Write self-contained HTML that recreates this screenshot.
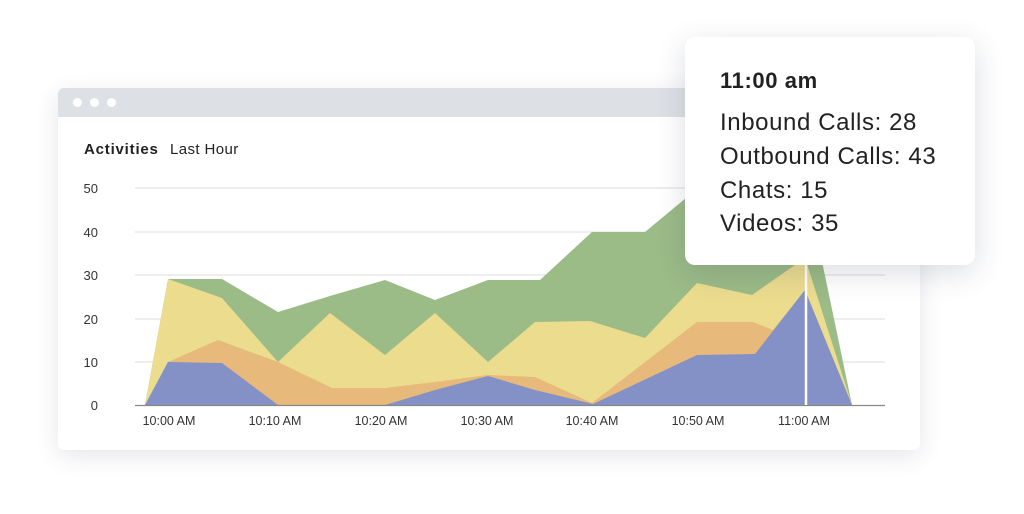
<!DOCTYPE html>
<html><head><meta charset="utf-8"><style>
html,body{margin:0;padding:0;background:#fff;width:1024px;height:514px;overflow:hidden;font-family:"Liberation Sans",sans-serif;}
.win{position:absolute;left:58px;top:88px;width:862px;height:362px;background:#fff;border-radius:6px;box-shadow:0 6px 24px rgba(40,50,80,0.12);overflow:hidden;}
.bar{height:29px;background:#dde1e6;position:relative}
.dot{position:absolute;top:10px;width:9px;height:9px;border-radius:50%;background:#fff}
.tip{position:absolute;left:685px;top:37px;width:290px;height:228px;background:#fff;border-radius:10px;box-shadow:0 8px 30px rgba(40,50,80,0.16);}
.tip div{position:absolute;left:35px;font-size:24px;letter-spacing:0.6px;color:#222;}
</style></head><body>
<div class="win"><div class="bar"><div class="dot" style="left:15px"></div><div class="dot" style="left:32px"></div><div class="dot" style="left:49px"></div></div></div>
<svg width="1024" height="514" style="position:absolute;left:0;top:0">
<g stroke="#dcdcdc" stroke-width="1">
<line x1="135" y1="188" x2="885" y2="188"/><line x1="135" y1="232" x2="885" y2="232"/><line x1="135" y1="275" x2="885" y2="275"/><line x1="135" y1="319" x2="885" y2="319"/><line x1="135" y1="362" x2="885" y2="362"/>
</g>
<g font-size="13" fill="#333" text-anchor="end">
<text x="98" y="193">50</text><text x="98" y="237">40</text><text x="98" y="280">30</text><text x="98" y="324">20</text><text x="98" y="367">10</text><text x="98" y="410">0</text>
</g>
<polygon fill="#9bbb87" points="145,405 168,279 222,279 278,312 330,296 385,280 435,300 488,280 540,280 592,232 645,232 698,188 752,200 805,180 852,405"/>
<polygon fill="#ebdc8e" points="145,405 168,279 222,298 278,362 330,313 385,355 435,313 488,362 535,322 590,321 645,338 697,283 752,295 805,258 852,405"/>
<polygon fill="#e7b97a" points="145,405 168,362 218,340 278,362 332,388 385,388 435,382 488,375 535,377 592,403 697,322 753,322 773,330 805,290 852,405"/>
<polygon fill="#8391c7" points="145,405 168,362 222,363 278,405 385,405 435,390 488,376 535,390 593,404 697,355 755,354 805,290 852,405"/>
<line x1="135" y1="405.5" x2="885" y2="405.5" stroke="#888" stroke-width="1.2"/>
<line x1="806" y1="260" x2="806" y2="405" stroke="#fff" stroke-width="2.5"/>
<g font-size="12.5" fill="#333" text-anchor="middle">
<text x="169" y="425">10:00 AM</text><text x="275" y="425">10:10 AM</text><text x="381" y="425">10:20 AM</text><text x="487" y="425">10:30 AM</text><text x="592" y="425">10:40 AM</text><text x="698" y="425">10:50 AM</text><text x="804" y="425">11:00 AM</text>
</g>
<text x="84" y="154" font-size="15" font-weight="bold" fill="#222" letter-spacing="0.8">Activities</text>
<text x="170" y="154" font-size="15" fill="#222" letter-spacing="0.4">Last Hour</text>
</svg>
<div class="tip">
<div style="top:31px;font-weight:bold;font-size:22px">11:00 am</div>
<div style="top:72px">Inbound Calls: 28</div>
<div style="top:106px">Outbound Calls: 43</div>
<div style="top:140px">Chats: 15</div>
<div style="top:173px">Videos: 35</div>
</div>
</body></html>
